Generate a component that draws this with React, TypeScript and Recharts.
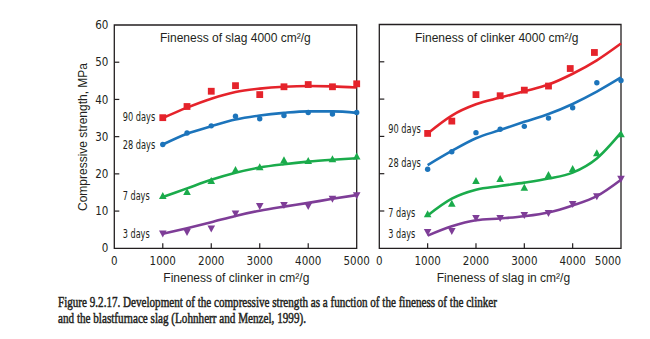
import React from 'react';
import { ComposedChart, Line, Scatter, XAxis, YAxis, ReferenceArea } from 'recharts';

// ---------- data ----------
const fineness = [1000, 1500, 2000, 2500, 3000, 3500, 4000, 4500, 5000];
const xTicks = [0, 1000, 2000, 3000, 4000, 5000];
const yTicks = [0, 10, 20, 30, 40, 50, 60];

// Left panel: fineness of clinker varied (slag 4000 cm²/g)
const clinker90Pts = [35.1, 38.1, 42.2, 43.7, 41.3, 43.4, 44.0, 43.4, 44.2];
const clinker90Fit = [35.0, 37.8, 40.2, 42.0, 42.9, 43.4, 43.6, 43.5, 43.2];
const clinker28Pts = [27.9, 31.0, 32.9, 35.5, 34.8, 35.7, 36.5, 36.1, 36.5];
const clinker28Fit = [27.9, 30.8, 32.8, 34.6, 35.7, 36.4, 36.8, 36.8, 36.4];
const clinker7Pts = [14.0, 15.1, 18.0, 21.0, 21.7, 23.6, 23.4, 23.9, 24.6];
const clinker7Fit = [13.8, 16.1, 18.4, 20.3, 21.7, 22.6, 23.3, 23.8, 24.2];
const clinker3Pts = [4.0, 4.4, 5.4, 9.4, 11.4, 11.7, 11.4, 13.4, 14.3];
const clinker3Fit = [3.9, 5.4, 7.0, 8.7, 10.1, 11.2, 12.2, 13.3, 14.3];

// Right panel: fineness of slag varied (clinker 4000 cm²/g)
const slag90X = [1000, 1500, 2000, 2500, 3000, 3500, 3950, 4450];
const slag90Pts = [30.8, 34.1, 41.2, 40.9, 42.4, 43.5, 48.2, 52.5];
const slag90Fit = [30.8, 35.6, 38.6, 40.4, 42.1, 43.9, 46.8, 50.4, 54.9];
const slag28Pts = [21.2, 25.9, 31.0, 31.9, 32.7, 34.9, 37.7, 44.4, 45.0];
const slag28Fit = [22.3, 26.1, 29.5, 31.7, 33.9, 36.0, 38.7, 42.0, 45.8];
const slag7Pts = [9.1, 11.9, 18.0, 18.5, 16.2, 19.6, 21.2, 25.4, 30.5];
const slag7Fit = [8.8, 13.3, 15.7, 16.7, 17.6, 18.7, 20.3, 24.1, 31.0];
const slag3Pts = [4.4, 4.7, 8.2, 8.2, 9.0, 9.5, 11.9, 14.0, 18.7];
const slag3Fit = [3.4, 5.9, 7.5, 8.0, 8.6, 9.6, 11.5, 14.0, 18.4];

const seriesLabels = ['90 days', '28 days', '7 days', '3 days'];

const pairs = (xs: number[], ys: number[]) => xs.map((x, i) => ({ x, y: ys[i] }));

// ---------- styles ----------
const RED = '#e5232b';
const BLUE = '#1c74bb';
const GREEN = '#1aab4b';
const PURPLE = '#7e3d97';
const INK = '#231f20';
const NARROW = "'Liberation Sans Narrow', 'Arial Narrow', 'DejaVu Sans Condensed', sans-serif";
const SANS = "'Liberation Sans', Arial, Helvetica, sans-serif";
const SERIF = "'Liberation Serif', 'Times New Roman', serif";

const Square = (p: any) => <rect x={p.cx - 3.4} y={p.cy - 3.4} width={6.8} height={6.8} fill={RED} />;
const Dot = (p: any) => <circle cx={p.cx} cy={p.cy} r={2.7} fill={BLUE} />;
const TriUp = (p: any) => (
  <polygon points={`${p.cx},${p.cy - 4.2} ${p.cx - 3.8},${p.cy + 2.8} ${p.cx + 3.8},${p.cy + 2.8}`} fill={GREEN} />
);
const TriDown = (p: any) => (
  <polygon points={`${p.cx - 3.8},${p.cy - 2.8} ${p.cx + 3.8},${p.cy - 2.8} ${p.cx},${p.cy + 4.2}`} fill={PURPLE} />
);

const makeXTick = (shiftLast: number) => (p: any) => {
  const v = p.payload.value;
  const inner = v !== 0 && v !== 5000;
  const dx = v === 5000 ? shiftLast : 0;
  return (
    <g>
      {inner && <line x1={p.x} y1={p.y} x2={p.x} y2={p.y - 5} stroke={INK} strokeWidth={1.2} />}
      <text x={p.x + dx} y={p.y + 16.5} textAnchor="middle" fontFamily={NARROW} fontSize={11.5} fill={INK}>
        {v}
      </text>
    </g>
  );
};

const makeYTick = (showLabel: boolean) => (p: any) => {
  const v = p.payload.value;
  const inner = v !== 0 && v !== 60;
  return (
    <g>
      {inner && <line x1={p.x} y1={p.y} x2={p.x + 5} y2={p.y} stroke={INK} strokeWidth={1.2} />}
      {showLabel && (
        <text x={p.x - 6} y={p.y + 4.1} textAnchor="end" fontFamily={NARROW} fontSize={11.5} fill={INK}>
          {v}
        </text>
      )}
    </g>
  );
};

type Panel = {
  pts: { xs: number[]; ys: number[]; shape: any }[];
  fits: { ys: number[]; color: string }[];
};

const leftPanel: Panel = {
  pts: [
    { xs: fineness, ys: clinker90Pts, shape: Square },
    { xs: fineness, ys: clinker28Pts, shape: Dot },
    { xs: fineness, ys: clinker7Pts, shape: TriUp },
    { xs: fineness, ys: clinker3Pts, shape: TriDown },
  ],
  fits: [
    { ys: clinker90Fit, color: RED },
    { ys: clinker28Fit, color: BLUE },
    { ys: clinker7Fit, color: GREEN },
    { ys: clinker3Fit, color: PURPLE },
  ],
};

const rightPanel: Panel = {
  pts: [
    { xs: slag90X, ys: slag90Pts, shape: Square },
    { xs: fineness, ys: slag28Pts, shape: Dot },
    { xs: fineness, ys: slag7Pts, shape: TriUp },
    { xs: fineness, ys: slag3Pts, shape: TriDown },
  ],
  fits: [
    { ys: slag90Fit, color: RED },
    { ys: slag28Fit, color: BLUE },
    { ys: slag7Fit, color: GREEN },
    { ys: slag3Fit, color: PURPLE },
  ],
};

const PanelChart = ({
  panel,
  width,
  margin,
  yWidth,
  showYLabels,
  shiftLast,
}: {
  panel: Panel;
  width: number;
  margin: any;
  yWidth: number;
  showYLabels: boolean;
  shiftLast: number;
}) => (
  <ComposedChart width={width} height={275} margin={margin}>
    <XAxis
      type="number"
      dataKey="x"
      domain={[0, 5000]}
      ticks={xTicks}
      interval={0}
      axisLine={false}
      tickLine={false}
      tickSize={0}
      tickMargin={0}
      height={20}
      tick={makeXTick(shiftLast)}
      allowDuplicatedCategory={false}
    />
    <YAxis
      type="number"
      dataKey="y"
      domain={[0, 60]}
      ticks={yTicks}
      interval={0}
      axisLine={false}
      tickLine={false}
      tickSize={0}
      tickMargin={0}
      width={yWidth}
      tick={makeYTick(showYLabels)}
    />
    <ReferenceArea x1={0} x2={5000} y1={0} y2={60} fill="none" fillOpacity={0} stroke={INK} strokeWidth={1.3} ifOverflow="visible" />
    {panel.fits.map((f, i) => (
      <Line
        key={'l' + i}
        data={pairs(fineness, f.ys)}
        dataKey="y"
        type="monotone"
        stroke={f.color}
        strokeWidth={2.6}
        dot={false}
        activeDot={false}
        isAnimationActive={false}
      />
    ))}
    {panel.pts.map((s, i) => (
      <Scatter key={'s' + i} data={pairs(s.xs, s.ys)} shape={s.shape} isAnimationActive={false} />
    ))}
  </ComposedChart>
);

const leftLabelPos = [
  { x: 122.7, y: 121.3 },
  { x: 122.7, y: 148.5 },
  { x: 122.7, y: 200.2 },
  { x: 122.7, y: 238.4 },
];
const rightLabelPos = [
  { x: 388.3, y: 133.4 },
  { x: 388.3, y: 167.4 },
  { x: 388.3, y: 216.8 },
  { x: 388.3, y: 238.4 },
];
const labelWidths = [32.5, 32.5, 27, 27];

export default function App() {
  return (
    <div style={{ position: 'absolute', left: 0, top: 0, width: 650, height: 339, background: '#fff', overflow: 'hidden' }}>
      <div style={{ position: 'absolute', left: 0, top: 0 }}>
        <PanelChart
          panel={leftPanel}
          width={370}
          margin={{ top: 25, right: 13.3, bottom: 6.7, left: 74.3 }}
          yWidth={40}
          showYLabels={true}
          shiftLast={0}
        />
      </div>
      <div style={{ position: 'absolute', left: 340, top: 0 }}>
        <PanelChart
          panel={rightPanel}
          width={300}
          margin={{ top: 24.5, right: 19, bottom: 6.7, left: 29.3 }}
          yWidth={10}
          showYLabels={false}
          shiftLast={-13}
        />
      </div>
      <svg width={650} height={339} style={{ position: 'absolute', left: 0, top: 0, pointerEvents: 'none' }}>
        <text x={160} y={41.7} fontFamily={SANS} fontSize={12} fill={INK}>Fineness of slag 4000 cm²/g</text>
        <text x={415} y={41.7} fontFamily={SANS} fontSize={12} fill={INK}>Fineness of clinker 4000 cm²/g</text>
        <text x={163.3} y={281.7} fontFamily={SANS} fontSize={12} fill={INK}>Fineness of clinker in cm²/g</text>
        <text x={436.7} y={281.7} fontFamily={SANS} fontSize={12} fill={INK}>Fineness of slag in cm²/g</text>
        <text
          x={87}
          y={137}
          transform="rotate(-90 87 137)"
          textAnchor="middle"
          fontFamily={SANS}
          fontSize={12}
          fill={INK}
        >
          Compressive strength, MPa
        </text>
        {seriesLabels.map((t, i) => (
          <text key={'ll' + i} x={leftLabelPos[i].x} y={leftLabelPos[i].y} fontFamily={NARROW} fontSize={11.5} fill={INK} textLength={labelWidths[i]} lengthAdjust="spacingAndGlyphs">
            {t}
          </text>
        ))}
        {seriesLabels.map((t, i) => (
          <text key={'rl' + i} x={rightLabelPos[i].x} y={rightLabelPos[i].y} fontFamily={NARROW} fontSize={11.5} fill={INK} textLength={labelWidths[i]} lengthAdjust="spacingAndGlyphs">
            {t}
          </text>
        ))}
        <text x={58} y={306.5} fontFamily={SERIF} fontSize={14.5} fill={INK} stroke={INK} strokeWidth={0.5} textLength={439} lengthAdjust="spacingAndGlyphs">
          Figure 9.2.17. Development of the compressive strength as a function of the fineness of the clinker
        </text>
        <text x={58} y={323} fontFamily={SERIF} fontSize={14.5} fill={INK} stroke={INK} strokeWidth={0.5} textLength={248} lengthAdjust="spacingAndGlyphs">
          and the blastfurnace slag (Lohnherr and Menzel, 1999).
        </text>
      </svg>
    </div>
  );
}
